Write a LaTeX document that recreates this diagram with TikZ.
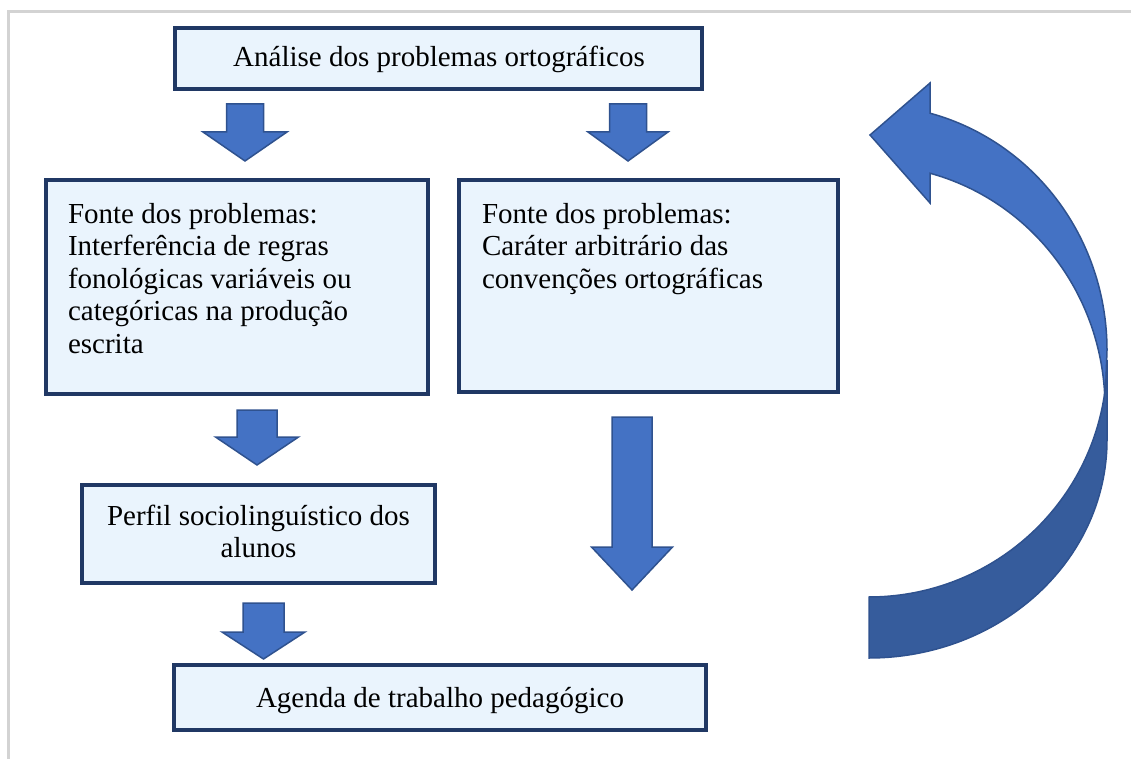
\documentclass[tikz,border=0pt]{standalone}
\usepackage{fontspec}
\setmainfont{Liberation Serif}
\begin{document}
\begin{tikzpicture}[x=1pt,y=-1pt]
\definecolor{boxfill}{HTML}{EAF4FD}
\definecolor{boxline}{HTML}{203864}
\definecolor{arrfill}{HTML}{4472C4}
\definecolor{arrline}{HTML}{2F528F}
\definecolor{arrdark}{HTML}{365C9C}
\definecolor{framegray}{HTML}{D3D3D3}
\tikzset{
  box/.style={draw=boxline, fill=boxfill, line width=3.5pt, anchor=north west, inner sep=0pt, outer sep=0pt},
  txt/.style={font=\fontsize{29}{32.5}\selectfont, inner sep=0pt, outer sep=0pt},
  blk/.style={fill=arrfill, draw=arrline, line width=1.5pt, line join=miter}
}
\newcommand\downblock[6]{% cx, top, headtop, tip, shaft half, head half
  \draw[blk] ({#1-#5},#2) -- ({#1+#5},#2) -- ({#1+#5},#3) -- ({#1+#6},#3) -- (#1,#4) -- ({#1-#6},#3) -- ({#1-#5},#3) -- cycle;}
\useasboundingbox (0,0) rectangle (1131,759);
\draw[framegray, line width=3pt] (8,759) -- (8,11.5) -- (1131,11.5);

% boxes
\node[box, minimum width=527pt, minimum height=61pt] (b1) at (175,28) {};
\node[txt, anchor=base] (t1) at (439,67) {Análise dos problemas ortográficos};

\node[box, minimum width=382pt, minimum height=214pt] (b2) at (46,180) {};
\node[txt, anchor=north west, align=left] (t2) at (68,200.25) {\strut Fonte dos problemas:\\Interferência de regras\\fonológicas variáveis ou\\categóricas na produção\\escrita};

\node[box, minimum width=379pt, minimum height=212pt] (b3) at (459,180) {};
\node[txt, anchor=north west, align=left] (t3) at (482,200.25) {\strut Fonte dos problemas:\\Caráter arbitrário das\\convenções ortográficas};

\node[box, minimum width=353pt, minimum height=98pt] (b4) at (82,485) {};
\node[txt, anchor=north, align=center] (t4) at (258.5,502.25) {\strut Perfil sociolinguístico dos\\alunos};

\node[box, minimum width=532pt, minimum height=65pt] (b5) at (174,665) {};
\node[txt, anchor=base] (t5) at (440,707) {Agenda de trabalho pedagógico};

% block arrows
\downblock{245}{104}{132}{161}{18.5}{42}
\downblock{628}{104}{132}{161}{18.5}{40}
\downblock{257}{410}{437}{465}{20}{41.5}
\downblock{263.5}{603}{632}{659}{20.5}{41.5}
\downblock{632}{417}{547}{590}{20}{40.5}

% curved return arrow
\draw[blk] plot[smooth, domain=0:75.15, samples=50] ({869+238*cos(\x)},{350-245*sin(\x)})
  -- (930,83) -- (870,135) -- (930,203)
  -- plot[smooth, domain=75.02:0, samples=50] ({869+236*cos(\x)},{407-242*sin(\x)}) -- cycle;
\draw[blk, fill=arrdark] plot[smooth, domain=-90:0, samples=50] ({869+238*cos(\x)},{440-218*sin(\x)})
  -- (1107,360)
  -- plot[smooth, domain=0:-90, samples=50] ({869+238*cos(\x)},{360-237*sin(\x)}) -- cycle;
\end{tikzpicture}
\end{document}
